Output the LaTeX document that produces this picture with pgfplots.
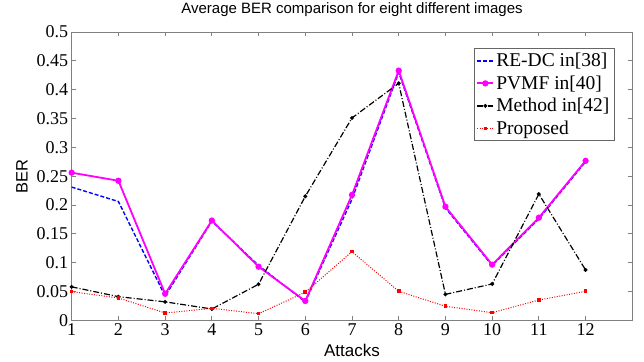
\documentclass[border=0pt]{standalone}
\usepackage{fontspec}
\setmainfont{Liberation Serif}
\newfontfamily\arial{Liberation Sans}
\usepackage{pgfplots}
\pgfplotsset{compat=1.18}
\definecolor{cblue}{RGB}{0,0,255}
\definecolor{cmag}{RGB}{255,0,255}
\definecolor{cred}{RGB}{255,0,0}
\begin{document}
\begin{tikzpicture}
\begin{axis}[
  at={(0,0)}, anchor=south west,
  scale only axis, width=560.6pt, height=288.3pt,
  xmin=1, xmax=13, ymin=0, ymax=0.5,
  xtick={1,...,12},
  ytick={0,0.05,0.1,0.15,0.2,0.25,0.3,0.35,0.4,0.45,0.5},
  yticklabels={0,0.05,0.1,0.15,0.2,0.25,0.3,0.35,0.4,0.45,0.5},
  tick align=inside, major tick length=4.5pt,
  axis line style={draw=black!50, line width=0.9pt},
  every tick/.style={draw=black!50, line width=0.9pt},
  /pgf/number format/assume math mode=true,
  tick label style={font=\fontsize{18}{18}\selectfont},
  title={Average BER comparison for eight different images},
  title style={font=\arial\fontsize{15}{15}\selectfont, at={(axis description cs:0.5,1.058)}, anchor=center},
  xlabel={Attacks}, ylabel={BER},
  xlabel style={font=\arial\fontsize{17}{17}\selectfont, at={(axis description cs:0.5,-0.103)}, anchor=center},
  ylabel style={font=\arial\fontsize{16.5}{16.5}\selectfont, at={(axis description cs:-0.0887,0.5)}, anchor=center},
  legend style={at={(axis description cs:0.968,0.943)}, anchor=north east,
    draw=black!60, line width=0.8pt, fill=white,
    font=\fontsize{19.5}{23.5}\selectfont, inner sep=2.5pt,
    row sep=3.5pt,
    /tikz/every even column/.append style={column sep=1pt}},
  legend cell align=left,
  legend image code/.code={\draw[mark repeat=2, mark phase=2, #1] plot coordinates {(0pt,0pt) (8pt,0pt) (16pt,0pt)};},
]
\addplot[color=cblue, line width=1.4pt, dash pattern=on 4pt off 2pt, mark=none] coordinates {
(1,0.231) (2,0.206) (3,0.042) (4,0.172) (5,0.095) (6,0.032) (7,0.210) (8,0.430) (9,0.195) (10,0.095) (11,0.176) (12,0.275)};
\addlegendentry{RE-DC in[38]}
\addplot[color=cmag, line width=1.8pt, mark=*, mark size=2.2pt, mark options={solid, fill=cmag}] coordinates {
(1,0.256) (2,0.242) (3,0.046) (4,0.173) (5,0.093) (6,0.0335) (7,0.2175) (8,0.433) (9,0.197) (10,0.0965) (11,0.178) (12,0.2766)};
\addlegendentry{PVMF in[40]}
\addplot[color=black, line width=1.2pt, dash pattern=on 6pt off 2pt on 1pt off 2pt, mark=*, mark size=1.3pt, mark options={solid}] coordinates {
(1,0.058) (2,0.041) (3,0.032) (4,0.0196) (5,0.0625) (6,0.215) (7,0.351) (8,0.411) (9,0.045) (10,0.063) (11,0.219) (12,0.0873)};
\addlegendentry{Method in[42]}
\addplot[color=cred, line width=1pt, dash pattern=on 1pt off 1.5pt, mark=square*, mark size=1.3pt, mark options={solid, fill=cred}] coordinates {
(1,0.0497) (2,0.0387) (3,0.0127) (4,0.0208) (5,0.0115) (6,0.0486) (7,0.119) (8,0.0503) (9,0.0243) (10,0.0132) (11,0.0352) (12,0.0503)};
\addlegendentry{Proposed}
\end{axis}
\pgfresetboundingbox
\useasboundingbox (-71.7pt,-40.7pt) rectangle (572.3pt,320.3pt);
\end{tikzpicture}
\end{document}
